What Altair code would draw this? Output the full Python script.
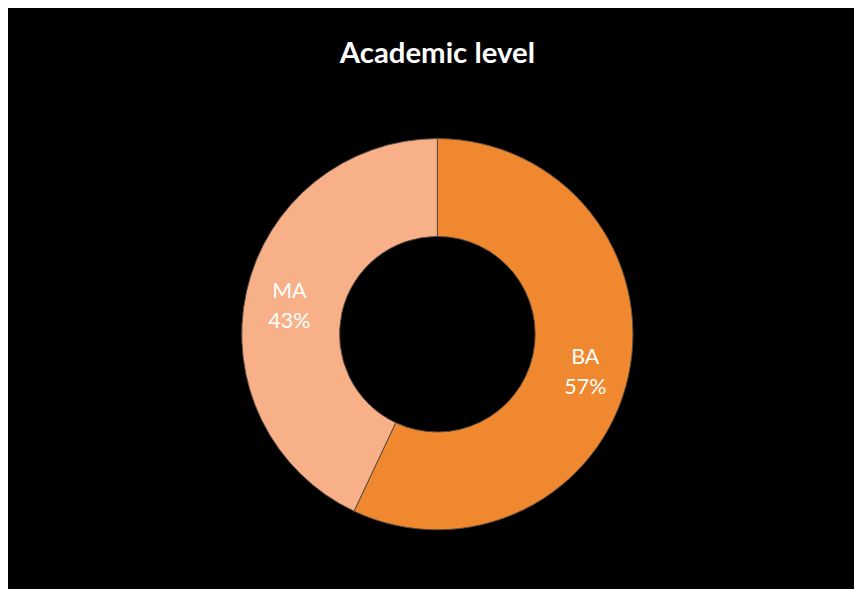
import altair as alt
import pandas as pd

categories = ["BA", "MA"]
percents = [57, 43]
colors = ["#EF882E", "#F7B087"]

df = pd.DataFrame({
    "level": categories,
    "pct": percents,
    "order": list(range(len(categories))),
})
df["label"] = [f"{c}\n{p}%" for c, p in zip(categories, percents)]

center_y = 257

base = alt.Chart(df).encode(
    theta=alt.Theta("pct:Q", stack=True),
    order=alt.Order("order:Q"),
)

arcs = base.mark_arc(
    innerRadius=100, outerRadius=200, stroke="#5a4a40", strokeWidth=1
).encode(
    color=alt.Color("level:N", scale=alt.Scale(domain=categories, range=colors), legend=None),
    y=alt.value(center_y),
)

labels = base.mark_text(
    radius=155, color="white", font="Lato", fontSize=22, lineBreak="\n",
    lineHeight=30, baseline="middle", align="center", dy=-10
).encode(
    text="label:N",
    y=alt.value(center_y),
)

chart = alt.layer(arcs, labels).properties(
    width=852,
    height=511,
    background="black",
    padding={"left": 13, "top": 70, "right": 0, "bottom": 0},
    autosize=alt.AutoSizeParams(type="none"),
    title=alt.TitleParams(
        "Academic level", color="white", font="Lato", fontSize=30,
        fontWeight="bold", anchor="middle", offset=14
    ),
).configure_view(stroke=None)

chart.save("out.html", embed_options={"renderer": "svg", "actions": False})
